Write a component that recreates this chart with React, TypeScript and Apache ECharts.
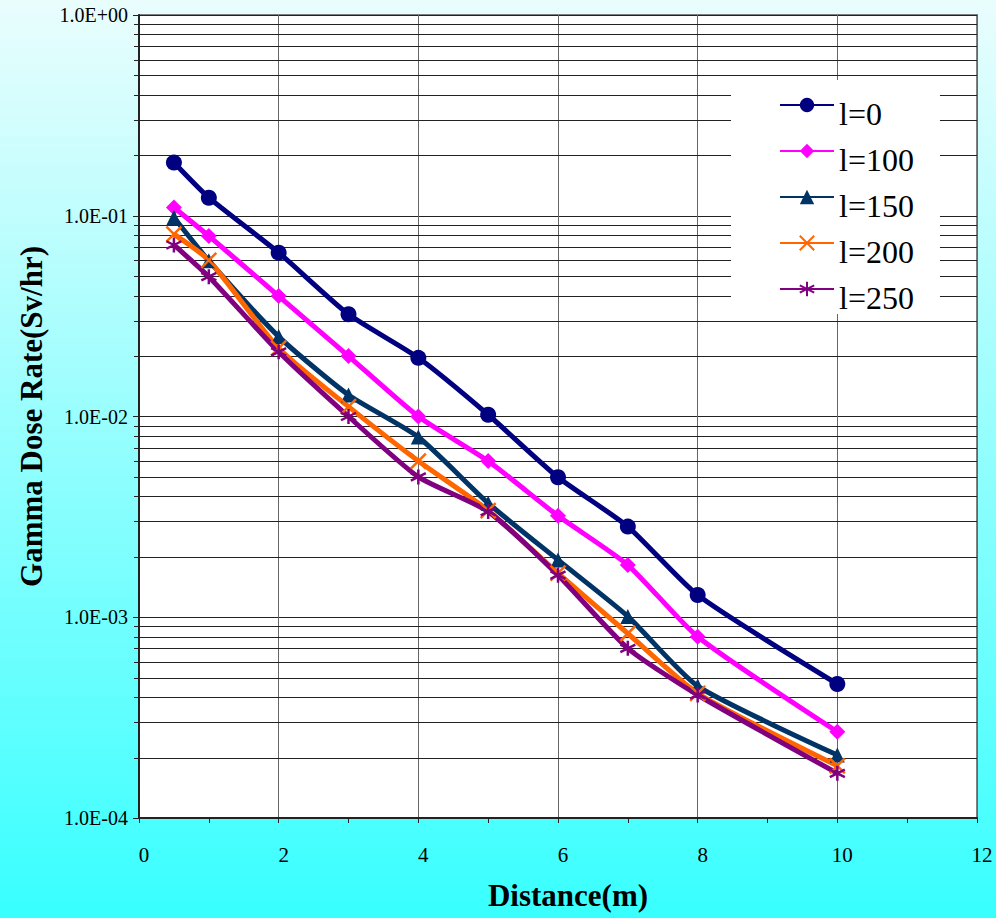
import React, { useEffect, useRef } from "react";
import * as echarts from "echarts";

const distances = [0.5, 1, 2, 3, 4, 5, 6, 7, 8, 10];
const seriesNames = ["l=0", "l=100", "l=150", "l=200", "l=250"];
const l0 = [0.184, 0.123, 0.0655, 0.0323, 0.0196, 0.0102, 0.00498, 0.00283, 0.00129, 0.000465];
const l100 = [0.11, 0.0793, 0.0398, 0.02, 0.01, 0.006, 0.0032, 0.00182, 0.0008, 0.000269];
const l150 = [0.098, 0.0597, 0.025, 0.0128, 0.0079, 0.0037, 0.00193, 0.00101, 0.000454, 0.000206];
const l200 = [0.081, 0.06, 0.0219, 0.0112, 0.006, 0.0034, 0.00166, 0.00083, 0.000418, 0.000182];
const l250 = [0.0715, 0.0497, 0.021, 0.01, 0.005, 0.00336, 0.00162, 0.0007, 0.00041, 0.000167];
const yTickLabels = ["1.0E-04", "1.0E-03", "1.0E-02", "1.0E-01", "1.0E+00"];
const minorMultipliers = [2, 3, 4, 5, 6, 7, 8, 9];
const decades = [1e-4, 1e-3, 1e-2, 1e-1];

const FONT = "Liberation Serif";
const colors = ["#000080", "#ff00ff", "#003366", "#ff6600", "#800080"];
const symbols = [
  "circle",
  "diamond",
  "triangle",
  "path://M0 0L10 10M10 0L0 10",
  "path://M5 0L5 10M0.7 2.5L9.3 7.5M0.7 7.5L9.3 2.5",
];
const symbolSizes = [16, 16, 15, 15, 15];

export default function App() {
  const ref = useRef<HTMLDivElement>(null);
  useEffect(() => {
    if (!ref.current) return;
    const chart = echarts.init(ref.current, null, { renderer: "svg" });
    const dataSets = [l0, l100, l150, l200, l250];
    const minorValues: number[][] = [];
    decades.forEach((d) => minorMultipliers.forEach((m) => minorValues.push([0, d * m])));

    const lineSeries = dataSets.map((arr, i) => {
      const isPath = i >= 3;
      return {
        name: seriesNames[i],
        type: "line",
        data: distances.map((x, j) => [x, arr[j]]),
        smooth: 0.2,
        symbol: symbols[i],
        symbolSize: symbolSizes[i],
        showSymbol: true,
        z: 3,
        lineStyle: { color: colors[i], width: 5 },
        itemStyle: isPath
          ? { color: colors[i], borderColor: colors[i], borderWidth: 2.5 }
          : { color: colors[i], borderWidth: 0 },
        emphasis: { disabled: true },
      };
    });

    const option: any = {
      animation: false,
      textStyle: { fontFamily: FONT },
      backgroundColor: {
        type: "linear",
        x: 0,
        y: 0,
        x2: 0,
        y2: 1,
        colorStops: [
          { offset: 0, color: "#eafdfd" },
          { offset: 1, color: "#38ffff" },
        ],
      },
      grid: {
        left: 139,
        right: 19,
        top: 15,
        bottom: 100,
        show: true,
        backgroundColor: "#ffffff",
        borderColor: "#808080",
        borderWidth: 2,
      },
      legend: {
        data: seriesNames,
        orient: "vertical",
        left: 731,
        top: 80,
        backgroundColor: "#ffffff",
        padding: [0, 26, 0, 48],
        itemWidth: 54,
        itemHeight: 18,
        itemGap: -4,
        formatter: (name: string) => "{t|" + name + "}",
        textStyle: {
          fontFamily: FONT,
          fontSize: 32,
          color: "#000",
          rich: {
            t: {
              fontFamily: FONT,
              fontSize: 32,
              color: "#000",
              lineHeight: 28,
              padding: [18, 0, 0, 0],
            },
          },
        },
      },
      xAxis: {
        type: "value",
        min: 0,
        max: 12,
        interval: 2,
        name: "Distance(m)",
        nameLocation: "middle",
        nameGap: 62,
        nameTextStyle: {
          fontFamily: FONT,
          fontSize: 31,
          fontWeight: "bold",
          color: "#000",
          padding: [0, 0, 0, 20],
        },
        axisLine: { show: true, lineStyle: { color: "#222", width: 2 } },
        axisTick: { show: true, length: 5, lineStyle: { color: "#222" } },
        minorTick: { show: true, splitNumber: 2, length: 5, lineStyle: { color: "#222" } },
        axisLabel: {
          fontFamily: FONT,
          fontSize: 21,
          color: "#000",
          margin: 26,
          padding: [0, 0, 0, 10],
        },
        splitLine: { show: true, lineStyle: { color: "#666", width: 1 } },
      },
      yAxis: {
        type: "log",
        logBase: 10,
        min: 1e-4,
        max: 1,
        name: "Gamma Dose Rate(Sv/hr)",
        nameLocation: "middle",
        nameGap: 92,
        nameTextStyle: {
          fontFamily: FONT,
          fontSize: 31,
          fontWeight: "bold",
          color: "#000",
        },
        axisLine: { show: true, lineStyle: { color: "#222", width: 2 } },
        axisTick: { show: true, length: 6, lineStyle: { color: "#222" } },
        axisLabel: {
          fontFamily: FONT,
          fontSize: 20,
          color: "#000",
          margin: 11,
          formatter: (v: number) => yTickLabels[Math.round(Math.log10(v)) + 4] ?? "",
        },
        splitLine: { show: true, lineStyle: { color: "#222", width: 1 } },
      },
      series: [
        {
          type: "custom",
          coordinateSystem: "cartesian2d",
          data: minorValues,
          silent: true,
          clip: false,
          z: 1,
          renderItem: (params: any, api: any) => {
            const v = api.value(1);
            const p0 = api.coord([0, v]);
            const p1 = api.coord([12, v]);
            const y = Math.round(p0[1]) + 0.5;
            return {
              type: "group",
              children: [
                {
                  type: "line",
                  shape: { x1: p0[0], y1: y, x2: p1[0], y2: y },
                  style: { stroke: "#222", lineWidth: 1 },
                },
                {
                  type: "line",
                  shape: { x1: p0[0] - 5, y1: y, x2: p0[0], y2: y },
                  style: { stroke: "#222", lineWidth: 1 },
                },
              ],
            };
          },
        },
        ...lineSeries,
      ],
    };
    chart.setOption(option);
    return () => chart.dispose();
  }, []);
  return (
    <div
      ref={ref}
      style={{ position: "fixed", left: 0, top: 0, width: 996, height: 918 }}
    />
  );
}
